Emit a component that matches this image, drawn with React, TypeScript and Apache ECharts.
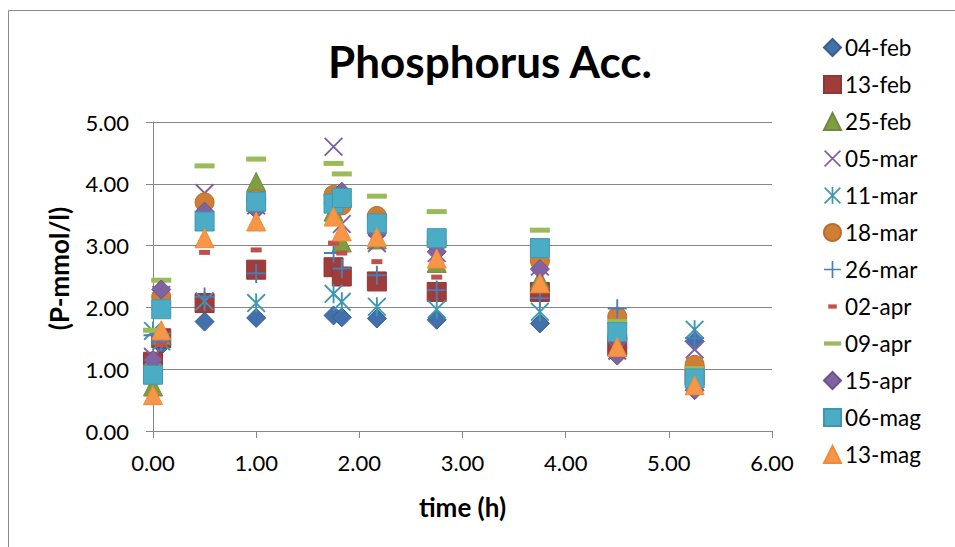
import React, { useEffect, useRef } from "react";
import * as echarts from "echarts";

const TITLE = "Phosphorus Acc.";
const X_NAME = "time (h)";
const Y_NAME = "(P-mmol/l)";

const TIMES = [0, 0.08, 0.5, 1, 1.75, 1.83, 2.17, 2.75, 3.75, 4.5, 5.25];

const SERIES_NAMES = [
  "04-feb", "13-feb", "25-feb", "05-mar", "11-mar", "18-mar",
  "26-mar", "02-apr", "09-apr", "15-apr", "06-mag", "13-mag",
];

const feb04 = [1.05, 1.39, 1.77, 1.83, 1.87, 1.84, 1.82, 1.8, 1.74, 1.5, 1.45];
const feb13 = [1.12, 1.5, 2.07, 2.61, 2.65, 2.5, 2.42, 2.25, 2.25, 1.38, 0.9];
const feb25 = [0.72, 1.55, 3.4, 4.03, 3.55, 3.05, 3.1, 2.72, 2.45, 1.7, 0.95];
const mar05 = [1.2, 2.2, 3.85, 3.65, 4.6, 3.35, 3.04, 2.88, 2.66, 1.3, 1.32];
const mar11 = [1.62, 1.45, 2.1, 2.07, 2.22, 2.09, 2.01, 1.97, 1.93, 1.6, 1.64];
const mar18 = [1.0, 2.17, 3.7, 3.75, 3.82, 3.65, 3.48, 3.05, 2.75, 1.85, 1.07];
const mar26 = [1.55, 1.45, 2.17, 2.55, 2.88, 2.63, 2.52, 2.28, 2.15, 1.98, 1.5];
const apr02 = [0.55, 1.4, 2.89, 2.93, 3.04, 2.88, 2.74, 2.49, 2.35, 1.45, 0.9];
const apr09 = [1.63, 2.44, 4.29, 4.4, 4.33, 4.16, 3.8, 3.55, 3.25, 1.77, 1.01];
const apr15 = [1.15, 2.29, 3.55, 3.58, 3.7, 3.87, 3.2, 2.9, 2.62, 1.22, 0.66];
const mag06 = [0.91, 1.97, 3.39, 3.71, 3.68, 3.77, 3.36, 3.12, 2.96, 1.6, 0.85];
const mag13 = [0.58, 1.63, 3.12, 3.39, 3.47, 3.23, 3.14, 2.79, 2.39, 1.36, 0.74];

const VALUES = [feb04, feb13, feb25, mar05, mar11, mar18, mar26, apr02, apr09, apr15, mag06, mag13];

const X_TICKS = { min: 0, max: 6, interval: 1 };
const Y_TICKS = { min: 0, max: 5, interval: 1 };

// shapes (20x20 box)
const X_PATH =
  "M0,1.4 L1.4,0 L20,18.6 L18.6,20 Z M18.6,0 L20,1.4 L1.4,20 L0,18.6 Z";
const STAR_PATH = X_PATH + " M9,0 L11,0 L11,20 L9,20 Z";
const PLUS_PATH = "M9,0 L11,0 L11,20 L9,20 Z M0,9 L20,9 L20,11 L0,11 Z";
const SMALL_DASH_ICON = "path://M0,0 M20,20 M5,7.5 L15,7.5 L15,12.5 L5,12.5 Z";
const LONG_DASH_ICON = "path://M0,0 M20,20 M0,7.5 L20,7.5 L20,12.5 L0,12.5 Z";

const STYLES: any[] = [
  { symbol: "diamond", size: 19, color: "#4270AC", border: "#385D8A" },
  { symbol: "rect", size: 19, color: "#A03C3A", border: "#8C3836" },
  { symbol: "triangle", size: 19, color: "#7E9E40", border: "#71893F" },
  { symbol: "path://" + X_PATH, size: 19, color: "#7D60A0", border: null, icon: "path://" + X_PATH },
  { symbol: "path://" + STAR_PATH, size: 19, color: "#3E99B0", border: null, icon: "path://" + STAR_PATH },
  { symbol: "circle", size: 19, color: "#D07E34", border: "#B66D31" },
  { symbol: "path://" + PLUS_PATH, size: 19, color: "#4A7EBB", border: null, icon: "path://" + PLUS_PATH },
  { symbol: "rect", size: [11, 5], color: "#C0504D", border: null, icon: SMALL_DASH_ICON },
  { symbol: "rect", size: [20, 5], color: "#9BBB59", border: null, icon: LONG_DASH_ICON },
  { symbol: "diamond", size: 19, color: "#8064A2", border: "#6B5389" },
  { symbol: "rect", size: 19, color: "#4BACC6", border: "#3F97AF" },
  { symbol: "triangle", size: 19, color: "#F79646", border: "#F08A3A" },
];

const FONT = "Lato, 'Open Sans', sans-serif";
const GRID_COLOR = "#868686";

export default function App() {
  const ref = useRef<HTMLDivElement>(null);

  useEffect(() => {
    if (!ref.current) return;
    const chart = echarts.init(ref.current, undefined, { renderer: "svg" });

    const series = SERIES_NAMES.map((name, si) => {
      const st = STYLES[si];
      const data = TIMES.map((t, i) => [t, VALUES[si][i]]).filter((d) => d[1] != null);
      return {
        name,
        type: "scatter",
        data,
        symbol: st.symbol,
        symbolSize: st.size,
        symbolKeepAspect: true,
        itemStyle: {
          color: st.color,
          borderColor: st.border || st.color,
          borderWidth: st.border ? 1 : 0,
          opacity: 1,
        },
        emphasis: { disabled: true },
      };
    });

    const legendData = SERIES_NAMES.map((name, si) =>
      STYLES[si].icon ? { name, icon: STYLES[si].icon } : { name }
    );

    chart.setOption({
      animation: false,
      textStyle: { fontFamily: FONT },
      title: {
        text: TITLE,
        left: 485,
        textAlign: "center",
        top: 34,
        textStyle: { fontFamily: FONT, fontSize: 44, fontWeight: "bold", color: "#000" },
      },
      legend: {
        orient: "vertical",
        left: 818,
        top: 31,
        itemWidth: 17,
        itemHeight: 17,
        itemGap: 14,
        data: legendData,
        selectedMode: false,
        textStyle: { fontFamily: FONT, fontSize: 22.5, lineHeight: 22, color: "#000", padding: [0, 0, 0, -1] },
      },
      graphic: [
        {
          type: "rect",
          shape: { x: 8.5, y: 10.5, width: 1200, height: 1200 },
          style: { fill: "none", stroke: "#8a8a8a", lineWidth: 1 },
          silent: true,
        },
      ],
      grid: { left: 153, right: 183, top: 122, bottom: 116, containLabel: false },
      xAxis: {
        type: "value",
        min: X_TICKS.min,
        max: X_TICKS.max,
        interval: X_TICKS.interval,
        name: X_NAME,
        nameLocation: "middle",
        nameGap: 63,
        nameTextStyle: { fontFamily: FONT, fontSize: 26, fontWeight: "bold", color: "#000" },
        axisLine: { show: true, onZero: false, lineStyle: { color: GRID_COLOR, width: 1 } },
        axisTick: { show: true, inside: false, length: 7, lineStyle: { color: GRID_COLOR } },
        splitLine: { show: false },
        axisLabel: {
          margin: 20,
          fontFamily: FONT,
          fontSize: 22,
          color: "#000",
          formatter: (v: number) => v.toFixed(2),
        },
      },
      yAxis: {
        type: "value",
        min: Y_TICKS.min,
        max: Y_TICKS.max,
        interval: Y_TICKS.interval,
        name: Y_NAME,
        nameLocation: "middle",
        nameGap: 81,
        nameRotate: 90,
        nameTextStyle: {
          fontFamily: FONT,
          fontSize: 26,
          fontWeight: "bold",
          color: "#000",
          padding: [0, 0, 0, 16],
        },
        axisLine: { show: true, lineStyle: { color: GRID_COLOR, width: 1 } },
        axisTick: { show: true, inside: false, length: 7, lineStyle: { color: GRID_COLOR } },
        splitLine: { show: true, lineStyle: { color: GRID_COLOR, width: 1 } },
        axisLabel: {
          margin: 24,
          fontFamily: FONT,
          fontSize: 22,
          color: "#000",
          formatter: (v: number) => v.toFixed(2),
        },
      },
      series,
    });

    return () => {
      chart.dispose();
    };
  }, []);

  return (
    <div
      ref={ref}
      style={{ position: "fixed", left: 0, top: 0, width: 955, height: 547, background: "#fff" }}
    />
  );
}
